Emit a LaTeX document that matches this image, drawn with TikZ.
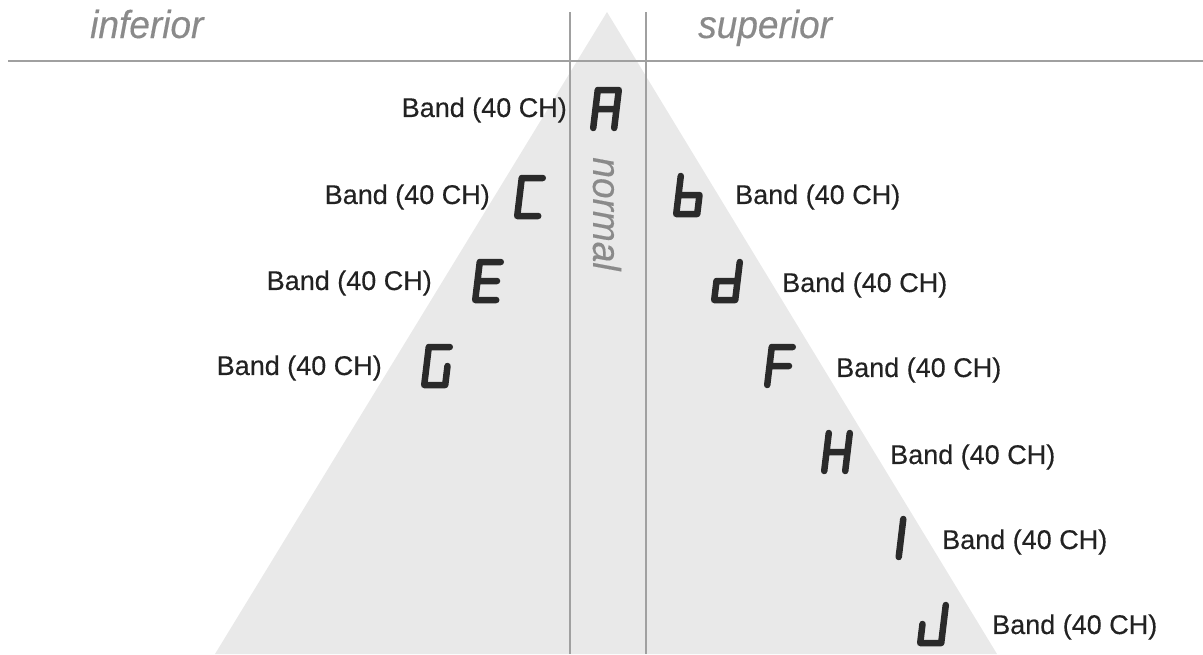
\documentclass[tikz,border=0pt]{standalone}
\usepackage{fontspec}
\setmainfont{Liberation Sans}
\newfontfamily\bandfont[FakeBold=0.35]{Liberation Sans}
\newfontfamily\headfont[FakeBold=0.3,FakeStretch=0.95]{Liberation Sans}
\definecolor{tri}{HTML}{E9E9E9}
\definecolor{rulecol}{HTML}{A0A0A0}
\definecolor{headcol}{HTML}{8A8A8A}
\definecolor{inkcol}{HTML}{2A2A2A}
\definecolor{txtcol}{HTML}{222222}
\tikzset{
  segline/.style={draw=inkcol, line width=6.5pt, line cap=round, line join=round},
  divider/.style={draw=rulecol, line width=2.5pt},
  bandlabel/.style={text=txtcol, font=\bandfont\fontsize{27}{30}\selectfont, inner sep=0pt},
  headlabel/.style={text=headcol, font=\headfont\fontsize{39}{40}\selectfont\itshape, inner sep=0pt},
}
\newcommand\sevseg[2]{\begin{scope}[shift={(#1)},x=1pt,y=1pt,xslant=0.12]\draw[segline] #2;\end{scope}}
\begin{document}
\begin{tikzpicture}[x=1pt,y=-1pt]
\useasboundingbox (0,0) rectangle (1203,654);
% triangle
\coordinate (apex) at (607,12);
\coordinate (baseL) at (215,654);
\coordinate (baseR) at (997,654);
\fill[tri] (apex) -- (baseR) -- (baseL) -- cycle;
% dividers
\coordinate (hL) at (8,61);
\coordinate (hR) at (1203,61);
\coordinate (v1t) at (570,12);
\coordinate (v1b) at (570,654);
\coordinate (v2t) at (646,12);
\coordinate (v2b) at (646,654);
\draw[divider] (hL) -- (hR);
\draw[divider] (v1t) -- (v1b);
\draw[divider] (v2t) -- (v2b);
% headings
\node[headlabel, anchor=base west] (inf) at (90,38) {inferior};
\node[headlabel, anchor=base west] (sup) at (698,38) {superior};
\node[headlabel, rotate=-90] (nor) at (607,214) {normal};
% letter positions
\coordinate (lA) at (606,109);
\coordinate (lC) at (530,197);
\coordinate (lb) at (689,195);
\coordinate (lE) at (488,281);
\coordinate (ld) at (727,281);
\coordinate (lG) at (437,366);
\coordinate (lF) at (780,366);
\coordinate (lH) at (837,452);
\coordinate (lI) at (901,538);
\coordinate (lJ) at (933,624);
% letters
\sevseg{lA}{(-10.5,-19)--(-10.5,19)--(10.5,19)--(10.5,-19) (-10.5,0)--(10.5,0)}
\sevseg{lC}{(10.5,19)--(-10.5,19)--(-10.5,-19)--(10.5,-19)}
\sevseg{lb}{(-10.5,19)--(-10.5,-19)--(10.5,-19)--(10.5,0)--(-10.5,0)}
\sevseg{lE}{(10.5,19)--(-10.5,19)--(-10.5,-19)--(10.5,-19) (-10.5,0)--(9,0)}
\sevseg{ld}{(10.5,19)--(10.5,-19)--(-10.5,-19)--(-10.5,0)--(10.5,0)}
\sevseg{lG}{(10.5,19)--(-10.5,19)--(-10.5,-19)--(10.5,-19)--(10.5,0)}
\sevseg{lF}{(10.5,19)--(-10.5,19)--(-10.5,-19) (-10.5,0)--(9,0)}
\sevseg{lH}{(-10.5,19)--(-10.5,-19) (10.5,19)--(10.5,-19) (-10.5,0)--(10.5,0)}
\sevseg{lI}{(0,19)--(0,-19)}
\sevseg{lJ}{(10.5,19)--(10.5,-19)--(-10.5,-19)--(-10.5,0)}
% labels
\node[bandlabel, anchor=east] (bA) at (567,110) {Band (40 CH)};
\node[bandlabel, anchor=east] (bC) at (490,197) {Band (40 CH)};
\node[bandlabel, anchor=west] (bb) at (735,197) {Band (40 CH)};
\node[bandlabel, anchor=east] (bE) at (432,283) {Band (40 CH)};
\node[bandlabel, anchor=west] (bd) at (782,285) {Band (40 CH)};
\node[bandlabel, anchor=east] (bG) at (382,368) {Band (40 CH)};
\node[bandlabel, anchor=west] (bF) at (836,370) {Band (40 CH)};
\node[bandlabel, anchor=west] (bH) at (890,457) {Band (40 CH)};
\node[bandlabel, anchor=west] (bI) at (942,542) {Band (40 CH)};
\node[bandlabel, anchor=west] (bJ) at (992,627) {Band (40 CH)};
\end{tikzpicture}
\end{document}
